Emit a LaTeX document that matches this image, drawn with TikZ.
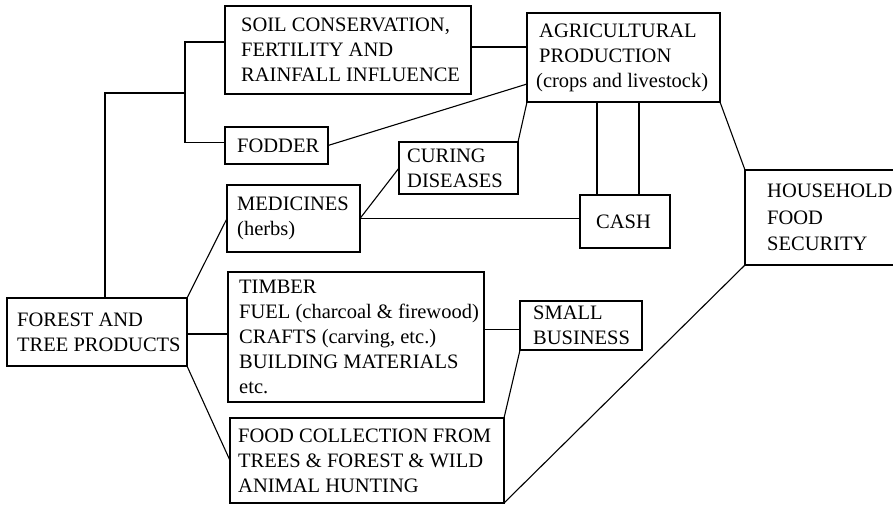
\documentclass[tikz,border=0pt]{standalone}
\usepackage{fontspec}
\setmainfont{Liberation Serif}
\begin{document}
\begin{tikzpicture}[x=1pt,y=-1pt,
  bx/.style 2 args={draw, line width=1.1pt, anchor=north west,
    minimum width=#1, minimum height=#2, inner sep=0pt, outer sep=0pt},
  lbl/.style={anchor=west, align=left, inner sep=0pt,
    font=\fontsize{20.5}{25}\selectfont},
  link/.style={draw, line width=1.1pt, line join=miter}]

\useasboundingbox (0,0) rectangle (893,506);
\clip (0,0) rectangle (893,506);

% boxes
\node[bx={246pt}{88pt}]  (soil)      at (225,6)   {};
\node[bx={193pt}{89pt}]  (agri)      at (527,13)  {};
\node[bx={103pt}{37pt}]  (fodder)    at (225,127) {};
\node[bx={119pt}{52pt}]  (curing)    at (399,142) {};
\node[bx={133pt}{67pt}]  (medicines) at (227,185) {};
\node[bx={90pt}{53pt}]   (cash)      at (580,195) {};
\node[bx={170pt}{95pt}]  (household) at (745,170) {};
\node[bx={180pt}{68pt}]  (forest)    at (7,298)   {};
\node[bx={256pt}{130pt}] (timber)    at (228,272) {};
\node[bx={122pt}{49pt}]  (small)     at (520,301) {};
\node[bx={274pt}{85pt}]  (food)      at (230,418) {};

% box texts
\node[lbl] (soil-t) at ([xshift=16pt]soil.west)
  {SOIL CONSERVATION,\\FERTILITY AND\\RAINFALL INFLUENCE};
\node[lbl] (agri-t) at ([xshift=9pt]agri.west)
  {\hspace{3pt}AGRICULTURAL\\\hspace{3pt}PRODUCTION\\(crops and livestock)};
\node[lbl] (fodder-t) at ([xshift=12pt]fodder.west) {FODDER};
\node[lbl] (curing-t) at ([xshift=8pt]curing.west) {CURING\\DISEASES};
\node[lbl] (medicines-t) at ([xshift=10pt]medicines.west) {MEDICINES\\(herbs)};
\node[lbl] (cash-t) at ([xshift=16pt]cash.west) {CASH};
\node[lbl, font=\fontsize{20.5}{26.5}\selectfont] (household-t)
  at ([xshift=22pt]household.west) {HOUSEHOLD\\FOOD\\SECURITY};
\node[lbl] (forest-t) at ([xshift=10pt]forest.west) {FOREST AND\\TREE PRODUCTS};
\node[lbl] (timber-t) at ([xshift=11pt]timber.west)
  {TIMBER\\FUEL (charcoal \& firewood)\\CRAFTS (carving, etc.)\\BUILDING MATERIALS\\etc.};
\node[lbl] (small-t) at ([xshift=13pt]small.west) {SMALL\\BUSINESS};
\node[lbl] (food-t) at ([xshift=8pt]food.west)
  {FOOD COLLECTION FROM\\TREES \& FOREST \& WILD\\ANIMAL HUNTING};

% branching connector from the forest products
\coordinate (split) at (185,93);
\path[link] ([xshift=8pt]forest.north) |- (split);
\path[link] ([yshift=8pt]soil.west) -| (split) |- ([yshift=3pt]fodder.west);

% connectors
\path[link] ([yshift=3pt]soil.east) -- ([yshift=3pt]soil.east -| agri.west);
\path[link] (fodder.east) -- ([yshift=-71pt]agri.north west);
\path[link] (agri.south west) -- (curing.north east);
\path[link] ([xshift=-28pt]cash.north) -- ([xshift=-28pt]cash.north |- agri.south);
\path[link] ([xshift=14pt]cash.north) -- ([xshift=14pt]cash.north |- agri.south);
\path[link] (agri.south east) -- (household.north west);
\path[link] (medicines.east) -- (medicines.east -| cash.west);
\path[link] (medicines.east) -- (curing.west);
\path[link] (forest.north east) -- (medicines.west);
\path[link] ([yshift=-2pt]forest.east) -- ([yshift=-2pt]forest.east -| timber.west);
\path[link] (forest.south east) -- (food.west);
\path[link] ([yshift=-4pt]small.west) -- ([yshift=-4pt]small.west -| timber.east);
\path[link] (small.south west) -- (food.north east);
\path[link] (household.south west) -- (food.south east);
\end{tikzpicture}
\end{document}
